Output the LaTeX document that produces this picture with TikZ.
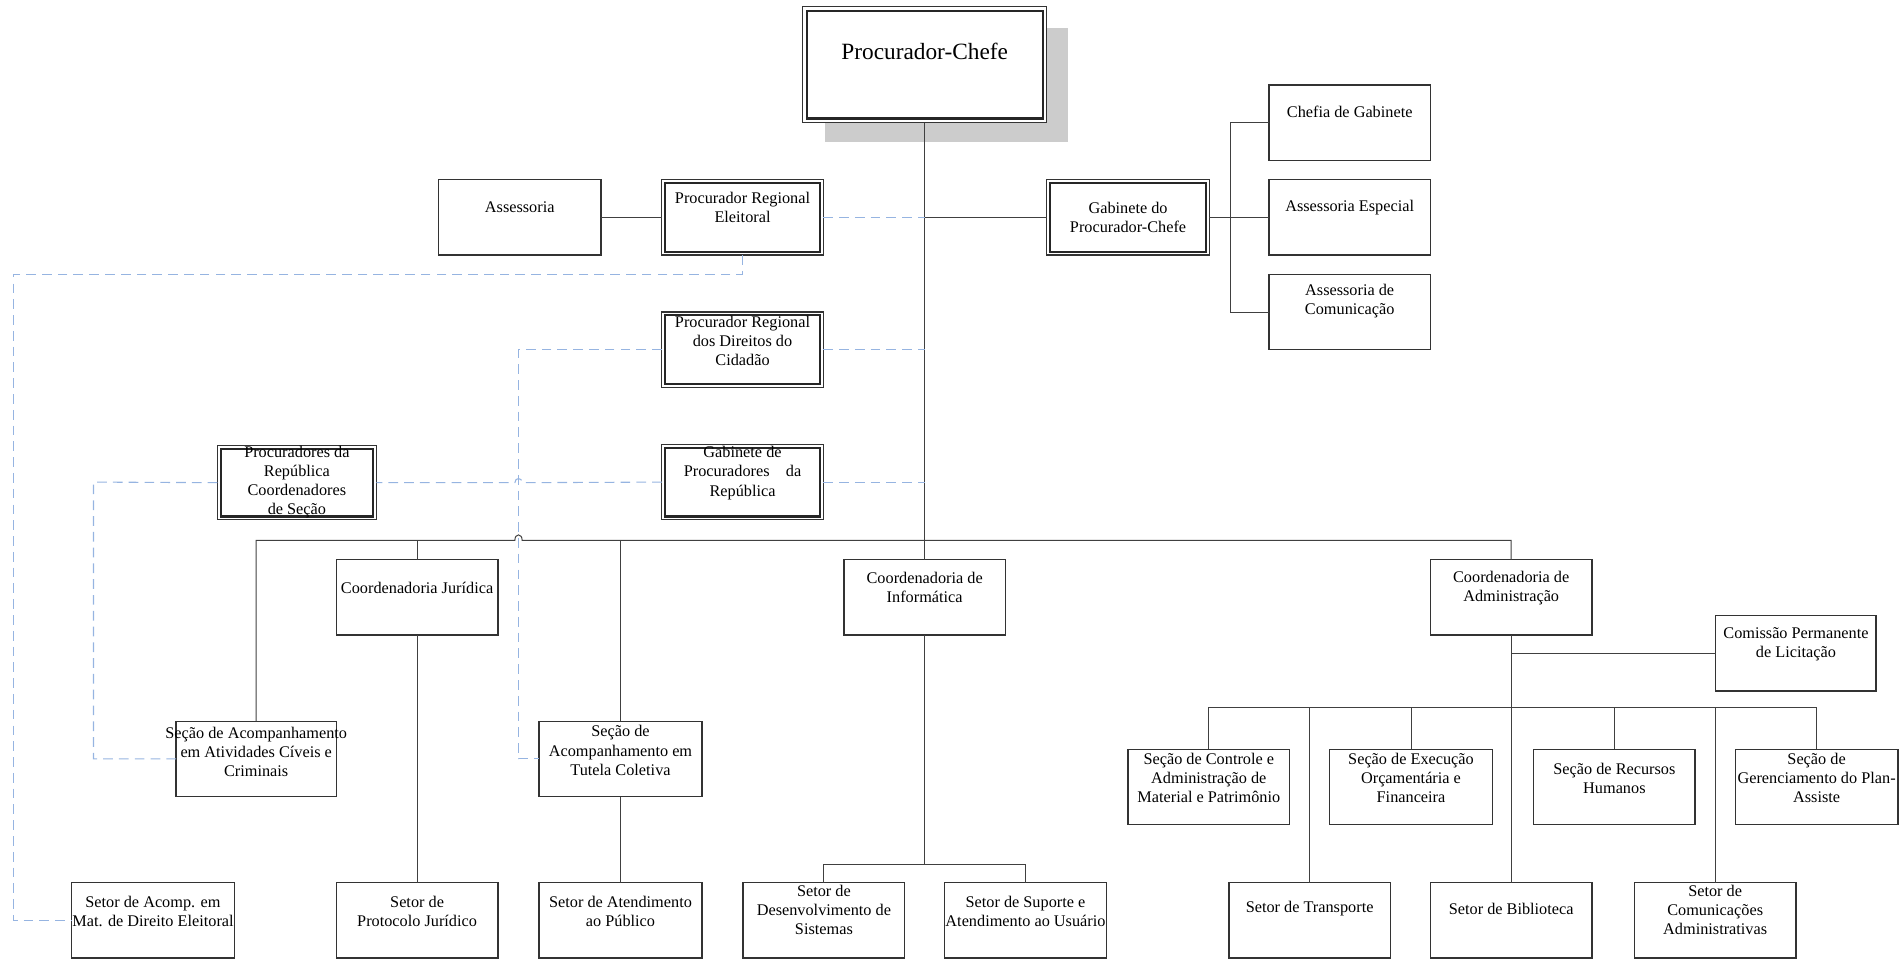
\documentclass[tikz,border=0pt]{standalone}
\usepackage{fontspec}
\setmainfont{Liberation Serif}
\definecolor{dashblue}{RGB}{150,180,225}
\definecolor{shadowgray}{RGB}{204,204,204}
\tikzset{
  ob/.style={draw=black!80, line width=0.55pt, inner sep=0pt, outer sep=0pt},
  inbox/.style={draw=black!85, line width=0.9pt},
  lb/.style={font=\fontsize{6.7}{7.9}\selectfont, align=center, inner sep=0pt, text=black},
  cn/.style={draw=black!75, line width=0.4pt},
  dsh/.style={draw=dashblue, line width=0.45pt, dash pattern=on 4pt off 2.5pt},
}
\newcommand\mkbox[5]{\node[ob, minimum width={(#4-#2)*0.5pt}, minimum height={(#5-#3)*0.5pt}] (#1) at ({(#2+#4)/2},{(#3+#5)/2}) {};}
\newcommand\dblin[2]{\draw[inbox] ([shift={(#2,#2)}]#1.north west) rectangle ([shift={(-#2,-#2)}]#1.south east);}
\newcommand\lbl[4]{\node[lb] (#1) at (#2,#3) {#4};}
\begin{document}
\begin{tikzpicture}[x=0.5pt,y=-0.5pt]
\useasboundingbox (0,0) rectangle (1568,789);
% shadow of the top box
\fill[shadowgray] (679.5,23) rectangle (879.5,117);
\node[ob, fill=white, line width=0.45pt, minimum width=100.5pt, minimum height=47.75pt] (pc) at (761.5,53.25) {};
\dblin{pc}{3.4}
\node[lb, font=\fontsize{9.6}{11}\selectfont] (pct) at (761.5,42) {Procurador-Chefe};

% boxes
\mkbox{assess}{361}{148}{495}{210}
\mkbox{pre}{545}{148}{678}{210}\dblin{pre}{2.7}
\mkbox{gpc}{862}{148}{996}{210}\dblin{gpc}{2.7}
\mkbox{chefia}{1045}{70}{1178}{132}
\mkbox{aesp}{1045}{148}{1178}{210}
\mkbox{acom}{1045}{226}{1178}{288}
\mkbox{prdc}{545}{257}{678}{319}\dblin{prdc}{2.7}
\mkbox{gpr}{545}{366}{678}{428}\dblin{gpr}{2.7}
\mkbox{prc}{179}{367}{310}{428}\dblin{prc}{2.7}
\mkbox{cjur}{277}{461}{410}{523}
\mkbox{cinf}{695}{461}{828}{523}
\mkbox{cadm}{1178}{461}{1311}{523}
\mkbox{cpl}{1413}{507}{1545}{569}
\mkbox{scc}{145}{594}{277}{656}
\mkbox{stc}{444}{594}{578}{656}
\mkbox{scam}{929}{617}{1062}{679}
\mkbox{seof}{1095}{617}{1229}{679}
\mkbox{srh}{1263}{617}{1396}{679}
\mkbox{sgpa}{1429}{617}{1563}{679}
\mkbox{sme}{59}{727}{193}{789}
\mkbox{spj}{277}{727}{410}{789}
\mkbox{sap}{444}{727}{578}{789}
\mkbox{sds}{612}{727}{745}{789}
\mkbox{ssu}{778}{727}{911}{789}
\mkbox{stra}{1012}{727}{1145}{789}
\mkbox{sbib}{1178}{727}{1311}{789}
\mkbox{scad}{1346}{727}{1479}{789}

% labels
\lbl{assesst}{428}{171}{Assessoria}
\lbl{pret}{611.5}{170.5}{Procurador Regional\\Eleitoral}
\lbl{gpct}{929}{179}{Gabinete do\\Procurador-Chefe}
\lbl{chefiat}{1111.5}{92}{Chefia de Gabinete}
\lbl{aespt}{1111.5}{171}{Assessoria Especial}
\lbl{acomt}{1111.5}{248}{Assessoria de\\Comunicação}
\lbl{prdct}{611.5}{280.5}{Procurador Regional\\dos Direitos do\\Cidadão}
\lbl{gprt}{611.5}{389.5}{Gabinete de\\Procuradores\quad da\\República}
\lbl{prct}{244.5}{397}{Procuradores da\\República\\Coordenadores\\de Seção}
\lbl{cjurt}{343.5}{484}{Coordenadoria Jurídica}
\lbl{cinft}{761.5}{484}{Coordenadoria de\\Informática}
\lbl{cadmt}{1244.5}{484}{Coordenadoria de\\Administração}
\lbl{cplt}{1479}{530.5}{Comissão Permanente\\de Licitação}
\lbl{scct}{211}{619}{Seção de Acompanhamento\\em Atividades Cíveis e\\Criminais}
\lbl{stct}{511}{618}{Seção de\\Acompanhamento em\\Tutela Coletiva}
\lbl{scamt}{995.5}{640.5}{Seção de Controle e\\Administração de\\Material e Patrimônio}
\lbl{seoft}{1162}{640.5}{Seção de Execução\\Orçamentária e\\Financeira}
\lbl{srht}{1329.5}{641}{Seção de Recursos\\Humanos}
\lbl{sgpat}{1496}{640.5}{Seção de\\Gerenciamento do Plan-\\Assiste}
\lbl{smet}{126}{750.5}{Setor de Acomp. em\\Mat. de Direito Eleitoral}
\lbl{spjt}{343.5}{750.5}{Setor de\\Protocolo Jurídico}
\lbl{sapt}{511}{750.5}{Setor de Atendimento\\ao Público}
\lbl{sdst}{678.5}{749.5}{Setor de\\Desenvolvimento de\\Sistemas}
\lbl{ssut}{844.5}{750.5}{Setor de Suporte e\\Atendimento ao Usuário}
\lbl{strat}{1078.5}{748.5}{Setor de Transporte}
\lbl{sbibt}{1244.5}{748.5}{Setor de Biblioteca}
\lbl{scadt}{1412.5}{749.5}{Setor de\\Comunicações\\Administrativas}

% junction coordinates
\coordinate (bus) at (761.5,445);
\coordinate (gv) at (1013,179);
\coordinate (le) at (11,226);
\coordinate (dv) at (427,288);
\coordinate (pl) at (77,397);
\coordinate (ib) at (761.5,712);
\coordinate (ab) at (1244.5,583);

% solid connectors
\draw[cn] (pc.south) -- (cinf.north);
\draw[cn] (assess.east) -- (pre.west);
\draw[cn] (gpc.west -| pc.south) -- (gpc.west);
\draw[cn] (gpc.east) -- (aesp.west);
\draw[cn] (chefia.west) -- (chefia.west -| gv) -- (acom.west -| gv) -- (acom.west);
\draw[cn] (scc.north) -- (scc.north |- bus) -- (424,445) .. controls (424,439) and (430,439) .. (430,445) -- (cadm.north |- bus) -- (cadm.north);
\draw[cn] (cjur.north) -- (cjur.north |- bus);
\draw[cn] (stc.north) -- (stc.north |- bus);
\draw[cn] (cjur.south) -- (spj.north);
\draw[cn] (stc.south) -- (sap.north);
\draw[cn] (cinf.south) -- (ib);
\draw[cn] (sds.north) |- (ib) -| (ssu.north);
\draw[cn] (cadm.south) -- (sbib.north);
\draw[cn] (cadm.south |- cpl.west) -- (cpl.west);
\draw[cn] (scam.north) |- (ab) -| (sgpa.north);
\draw[cn] (stra.north) -- (stra.north |- ab);
\draw[cn] (seof.north) -- (seof.north |- ab);
\draw[cn] (srh.north) -- (srh.north |- ab);
\draw[cn] (scad.north) -- (scad.north |- ab);

% dashed connectors
\draw[dsh] (pre.east) -- (pre.east -| pc.south);
\draw[dsh] (prdc.east) -- (prdc.east -| pc.south);
\draw[dsh] (gpr.east) -- (gpr.east -| pc.south);
\draw[dsh] (pre.south) |- (le) |- (sme.west);
\draw[dsh] (prdc.west) -- (dv) -- (dv |- stc.west) -- (stc.west);
\draw[dsh] (gpr.west) -- (430,397.5) .. controls (430,393) and (424,393) .. (424,397.5) -- (prc.east);
\draw[dsh] (prc.west) -- (pl) -- (pl |- scc.west) -- (scc.west);
\end{tikzpicture}
\end{document}
